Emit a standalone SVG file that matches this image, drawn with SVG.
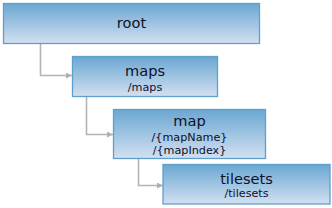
<svg xmlns="http://www.w3.org/2000/svg" width="332" height="208" viewBox="0 0 332 208">
<defs>
<linearGradient id="g" x1="0" y1="0" x2="0" y2="1">
<stop offset="0" stop-color="#6aa7d2"/>
<stop offset="1" stop-color="#d3e0f1"/>
</linearGradient>
<marker id="arr" viewBox="0 0 10 10" refX="10" refY="5" markerWidth="6" markerHeight="6" markerUnits="userSpaceOnUse" orient="auto">
<path d="M0,0 L10,5 L0,10 z" fill="#b0b0b0"/>
</marker>
<style>
.box{fill:url(#g);stroke:#5f9fcc;stroke-width:1.3}
.t{font-family:"DejaVu Sans",Verdana,sans-serif;font-size:14.6px;fill:#10102a;text-anchor:middle}
.s{font-family:"DejaVu Sans",Verdana,sans-serif;font-size:11.2px;fill:#10102a;text-anchor:middle}
.c{fill:none;stroke:#b4b4b4;stroke-width:1.6}
</style>
</defs>
<g id="connectors">
<path class="c" d="M40.5 44 V75.5 H72" marker-end="url(#arr)"/>
<path class="c" d="M86.5 97 V134.5 H113" marker-end="url(#arr)"/>
<path class="c" d="M138.5 159 V185.5 H163" marker-end="url(#arr)"/>
</g>
<g id="root">
<rect class="box" x="3.5" y="3.5" width="256" height="40"/>
<text class="t" x="131.5" y="27.5">root</text>
</g>
<g id="maps">
<rect class="box" x="72.5" y="56.5" width="145" height="40"/>
<text class="t" x="145" y="76">maps</text>
<text class="s" x="145" y="90.5">/maps</text>
</g>
<g id="map">
<rect class="box" x="113.5" y="109.5" width="152" height="49"/>
<text class="t" x="189.5" y="126">map</text>
<text class="s" x="189.5" y="140.5">/{mapName}</text>
<text class="s" x="189.5" y="153.5">/{mapIndex}</text>
</g>
<g id="tilesets">
<rect class="box" x="163" y="164.5" width="167" height="39.5"/>
<text class="t" x="246.5" y="184">tilesets</text>
<text class="s" x="246.5" y="197">/tilesets</text>
</g>
</svg>
